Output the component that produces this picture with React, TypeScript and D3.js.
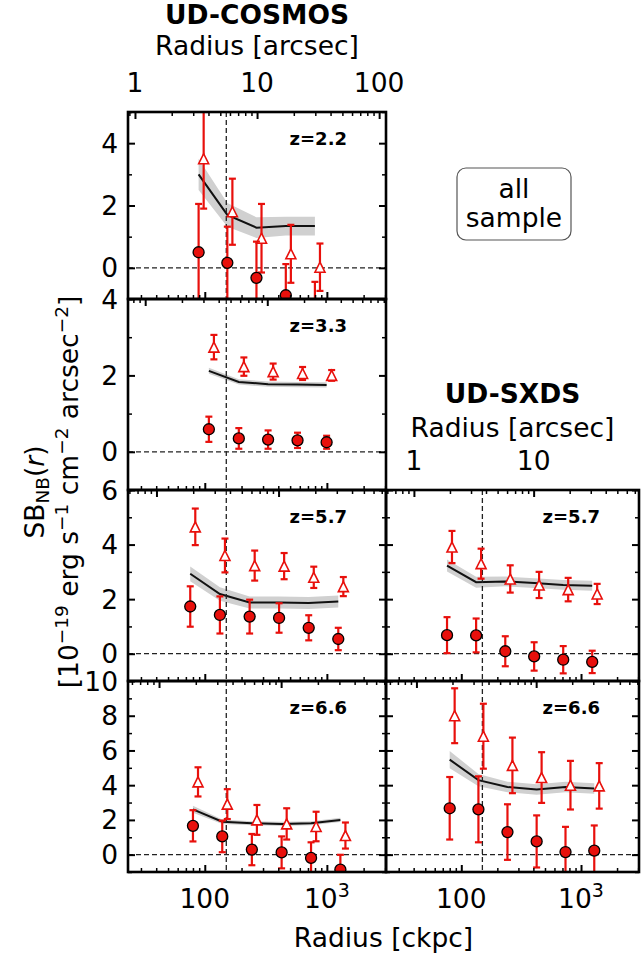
import React, { useEffect, useRef } from "react";
import * as d3 from "d3";

// radial bins [ckpc], one list per redshift
const rZ22 = [89, 153, 265, 461, 798];
const rZ33 = [108, 190, 330, 575, 995];
const rZ57 = [76, 133, 233, 406, 710, 1240];
const rZ66 = [80, 139, 243, 426, 742, 1290];

// UD-COSMOS z=2.2
const cos22Circ = [0.5, 0.16, -0.32, -0.88, -1.55];
const cos22CircErr = [1.55, 1.16, 1.16, 1.0, 1.1];
const cos22Tri = [3.5, 1.8, 0.95, 0.45, 0.02];
const cos22TriErr = [1.6, 1.06, 1.1, 0.93, 0.76];
const cos22Line = [3.0, 1.7, 1.29, 1.34, 1.34];
const cos22Band = [0.5, 0.38, 0.33, 0.3, 0.3];

// UD-COSMOS z=3.3
const cos33Circ = [0.59, 0.35, 0.32, 0.3, 0.25];
const cos33CircErr = [0.33, 0.27, 0.24, 0.2, 0.17];
const cos33Tri = [2.74, 2.23, 2.1, 2.05, 2.0];
const cos33TriErr = [0.32, 0.24, 0.21, 0.17, 0.14];
const cos33Line = [2.12, 1.83, 1.77, 1.76, 1.75];
const cos33Band = [0.08, 0.07, 0.07, 0.07, 0.07];

// UD-COSMOS z=5.7
const cos57Circ = [1.73, 1.42, 1.36, 1.31, 0.95, 0.54];
const cos57CircErr = [0.74, 0.68, 0.62, 0.54, 0.46, 0.41];
const cos57Tri = [4.65, 3.6, 3.23, 3.21, 2.8, 2.46];
const cos57TriErr = [0.67, 0.62, 0.55, 0.48, 0.39, 0.35];
const cos57Line = [2.93, 2.19, 1.88, 1.88, 1.86, 1.91];
const cos57Band = [0.27, 0.25, 0.22, 0.22, 0.22, 0.22];

// UD-COSMOS z=6.6
const cos66Circ = [1.66, 1.05, 0.29, 0.13, -0.19, -0.86];
const cos66CircErr = [0.9, 0.91, 0.9, 0.92, 0.9, 0.85];
const cos66Tri = [4.19, 2.91, 2.0, 1.77, 1.62, 1.1];
const cos66TriErr = [0.84, 0.86, 0.86, 0.9, 0.85, 0.75];
const cos66Line = [2.61, 1.9, 1.81, 1.77, 1.81, 2.0];
const cos66Band = [0.2, 0.13, 0.12, 0.12, 0.12, 0.12];

// UD-SXDS z=5.7
const sx57Circ = [0.68, 0.67, 0.09, -0.1, -0.22, -0.3];
const sx57CircErr = [0.66, 0.62, 0.55, 0.52, 0.5, 0.41];
const sx57Tri = [3.91, 3.3, 2.74, 2.52, 2.35, 2.19];
const sx57TriErr = [0.59, 0.55, 0.5, 0.48, 0.43, 0.37];
const sx57Line = [3.23, 2.62, 2.65, 2.59, 2.52, 2.49];
const sx57Band = [0.22, 0.2, 0.18, 0.18, 0.18, 0.18];

// UD-SXDS z=6.6
const sx66Circ = [2.67, 2.61, 1.3, 0.76, 0.15, 0.23];
const sx66CircErr = [1.8, 1.9, 1.6, 1.5, 1.45, 1.45];
const sx66Tri = [8.0, 6.82, 5.14, 4.44, 4.0, 3.96];
const sx66TriErr = [1.58, 1.87, 1.6, 1.46, 1.4, 1.31];
const sx66Line = [5.47, 4.29, 3.9, 3.75, 3.9, 3.81];
const sx66Band = [0.5, 0.35, 0.3, 0.3, 0.3, 0.3];

// tick labels
const yLabels5 = [0, 2, 4];
const yLabels6 = [0, 2, 4, 6];
const yLabels10 = [0, 2, 4, 6, 8, 10];
const ckpcLabels = [100, 1000];
const cosmosArcLabels = [1, 10, 100];
const sxdsArcLabels = [1, 10];

const xDomain = [23.5, 3050];
const rCut = 150; // ckpc, dashed vertical line
const RED = "#e8100c";
const FONT = "DejaVu Sans";
const FS = 26.5;

const colX = [[128, 386], [386, 639]];
const rowY = [[112, 299], [299, 490], [490, 681], [681, 872]];

const panels = [
  { col: 0, row: 0, z: "2.2", kpa: 26.8, yd: [-1, 5], yl: yLabels5, r: rZ22, c: cos22Circ, ce: cos22CircErr, t: cos22Tri, te: cos22TriErr, l: cos22Line, b: cos22Band },
  { col: 0, row: 1, z: "3.3", kpa: 32.5, yd: [-1, 4], yl: yLabels5, r: rZ33, c: cos33Circ, ce: cos33CircErr, t: cos33Tri, te: cos33TriErr, l: cos33Line, b: cos33Band },
  { col: 0, row: 2, z: "5.7", kpa: 40.2, yd: [-1, 6], yl: yLabels6, r: rZ57, c: cos57Circ, ce: cos57CircErr, t: cos57Tri, te: cos57TriErr, l: cos57Line, b: cos57Band },
  { col: 0, row: 3, z: "6.6", kpa: 42.2, yd: [-1, 10], yl: yLabels10, r: rZ66, c: cos66Circ, ce: cos66CircErr, t: cos66Tri, te: cos66TriErr, l: cos66Line, b: cos66Band },
  { col: 1, row: 2, z: "5.7", kpa: 40.2, yd: [-1, 6], yl: null, r: rZ57, c: sx57Circ, ce: sx57CircErr, t: sx57Tri, te: sx57TriErr, l: sx57Line, b: sx57Band },
  { col: 1, row: 3, z: "6.6", kpa: 42.2, yd: [-1, 10], yl: null, r: rZ66, c: sx66Circ, ce: sx66CircErr, t: sx66Tri, te: sx66TriErr, l: sx66Line, b: sx66Band },
];

const isMajor = (v: number) => Math.abs(Math.log10(v) - Math.round(Math.log10(v))) < 1e-6;

// rich text: segments with a vertical shift in px (negative = up) and a size
function richText(sel: any, segs: [string, number, number][]) {
  let cur = 0;
  segs.forEach(([txt, shift, size]) => {
    sel.append("tspan").attr("dy", shift - cur).attr("font-size", size).text(txt);
    cur = shift;
  });
}

function App() {
  const ref = useRef<SVGSVGElement>(null);

  useEffect(() => {
    const svg = d3.select(ref.current);
    svg.selectAll("*").remove();
    const defs = svg.append("defs");

    const tickGroup = (g: any, axis: any, tf: string, w: number) => {
      g.append("g").attr("transform", tf).call(axis)
        .call((s: any) => s.select(".domain").remove())
        .call((s: any) => s.selectAll("text").remove())
        .selectAll("line").attr("stroke", "#000").attr("stroke-width", w);
    };

    panels.forEach((p, pi) => {
      const [x0, x1] = colX[p.col];
      const [y0, y1] = rowY[p.row];
      const x = d3.scaleLog().domain(xDomain).range([x0, x1]);
      const xa = d3.scaleLog().domain([xDomain[0] / p.kpa, xDomain[1] / p.kpa]).range([x0, x1]);
      const y = d3.scaleLinear().domain(p.yd).range([y1, y0]);
      const g = svg.append("g");

      defs.append("clipPath").attr("id", "clip" + pi)
        .append("rect").attr("x", x0).attr("y", y0).attr("width", x1 - x0).attr("height", y1 - y0);
      const pg = g.append("g").attr("clip-path", `url(#clip${pi})`);

      // shaded band and line
      const area = d3.area<number>()
        .x((d, i) => x(p.r[i]))
        .y0((d, i) => y(d - p.b[i]))
        .y1((d, i) => y(d + p.b[i]));
      pg.append("path").attr("d", area(p.l)).attr("fill", "#d0d0d0");
      const line = d3.line<number>().x((d, i) => x(p.r[i])).y((d) => y(d));
      pg.append("path").attr("d", line(p.l)).attr("fill", "none").attr("stroke", "#111").attr("stroke-width", 2);

      // reference lines
      pg.append("line").attr("x1", x0).attr("x2", x1).attr("y1", y(0)).attr("y2", y(0))
        .attr("stroke", "#222").attr("stroke-width", 1.3).attr("stroke-dasharray", "5,3");
      pg.append("line").attr("x1", x(rCut)).attr("x2", x(rCut)).attr("y1", y0).attr("y2", y1)
        .attr("stroke", "#222").attr("stroke-width", 1.3).attr("stroke-dasharray", "5,3");

      // error bars
      const errBars = (vals: number[], errs: number[], shift: number) => {
        const eg = pg.append("g").attr("stroke", RED).attr("stroke-width", 2.2);
        vals.forEach((v, i) => {
          const cx = x(p.r[i] * shift);
          const ya = y(v - errs[i]);
          const yb = y(v + errs[i]);
          eg.append("line").attr("x1", cx).attr("x2", cx).attr("y1", ya).attr("y2", yb);
          eg.append("line").attr("x1", cx - 3.5).attr("x2", cx + 3.5).attr("y1", ya).attr("y2", ya);
          eg.append("line").attr("x1", cx - 3.5).attr("x2", cx + 3.5).attr("y1", yb).attr("y2", yb);
        });
      };
      errBars(p.t, p.te, 1.1);
      pg.append("g").selectAll("path").data(p.t).join("path")
        .attr("transform", (d, i) => `translate(${x(p.r[i] * 1.1)},${y(d)})`)
        .attr("d", "M0,-5L5,5L-5,5Z")
        .attr("fill", "#fff").attr("stroke", RED).attr("stroke-width", 1.6);
      errBars(p.c, p.ce, 1);
      pg.append("g").selectAll("circle").data(p.c).join("circle")
        .attr("cx", (d, i) => x(p.r[i])).attr("cy", (d) => y(d)).attr("r", 5.5)
        .attr("fill", RED).attr("stroke", "#000").attr("stroke-width", 1.3);

      // ticks
      const xt = x.ticks();
      const xat = xa.ticks();
      const ymaj = d3.range(Math.ceil(p.yd[0] / 2) * 2, p.yd[1] + 0.01, 2);
      const ymin = d3.range(p.yd[0], p.yd[1] + 0.01, 1).filter((v) => v % 2 !== 0);
      tickGroup(g, d3.axisBottom(x).tickValues(xt.filter(isMajor)).tickSize(-7), `translate(0,${y1})`, 2);
      tickGroup(g, d3.axisBottom(x).tickValues(xt.filter((v) => !isMajor(v))).tickSize(-4), `translate(0,${y1})`, 1.5);
      tickGroup(g, d3.axisTop(xa).tickValues(xat.filter(isMajor)).tickSize(-7), `translate(0,${y0})`, 2);
      tickGroup(g, d3.axisTop(xa).tickValues(xat.filter((v) => !isMajor(v))).tickSize(-4), `translate(0,${y0})`, 1.5);
      tickGroup(g, d3.axisLeft(y).tickValues(ymaj).tickSize(-7), `translate(${x0},0)`, 2);
      tickGroup(g, d3.axisLeft(y).tickValues(ymin).tickSize(-4), `translate(${x0},0)`, 1.5);
      tickGroup(g, d3.axisRight(y).tickValues(ymaj).tickSize(-7), `translate(${x1},0)`, 2);
      tickGroup(g, d3.axisRight(y).tickValues(ymin).tickSize(-4), `translate(${x1},0)`, 1.5);

      g.append("rect").attr("x", x0).attr("y", y0).attr("width", x1 - x0).attr("height", y1 - y0)
        .attr("fill", "none").attr("stroke", "#000").attr("stroke-width", 2.6);

      g.append("text").attr("x", x1 - 39).attr("y", y0 + 33).attr("text-anchor", "end")
        .attr("font-size", 18).attr("font-weight", "bold").text("z=" + p.z);

      if (p.yl) {
        g.append("g").selectAll("text").data(p.yl).join("text")
          .attr("x", x0 - 10).attr("y", (d) => y(d)).attr("dy", "0.36em")
          .attr("text-anchor", "end").attr("font-size", FS).text((d) => String(d));
      }

      // bottom ckpc labels on the last row
      if (p.row === 3) {
        ckpcLabels.forEach((v) => {
          const t = g.append("text").attr("x", x(v)).attr("y", 908).attr("text-anchor", "middle").attr("font-size", FS);
          if (v === 100) t.text("100");
          else richText(t, [["10", 0, FS], ["3", -11, 19]]);
        });
      }

      // arcsec labels above the top panel of each field
      if (p.col === 0 && p.row === 0) {
        g.append("g").selectAll("text").data(cosmosArcLabels).join("text")
          .attr("x", (d) => xa(d)).attr("y", 92).attr("text-anchor", "middle").attr("font-size", FS)
          .text((d) => String(d));
      }
      if (p.col === 1 && p.row === 2) {
        g.append("g").selectAll("text").data(sxdsArcLabels).join("text")
          .attr("x", (d) => xa(d)).attr("y", 470).attr("text-anchor", "middle").attr("font-size", FS)
          .text((d) => String(d));
      }
    });

    // titles
    const cxL = (colX[0][0] + colX[0][1]) / 2;
    const cxR = (colX[1][0] + colX[1][1]) / 2;
    svg.append("text").attr("x", cxL).attr("y", 24).attr("text-anchor", "middle")
      .attr("font-size", FS).attr("font-weight", "bold").text("UD-COSMOS");
    svg.append("text").attr("x", cxL).attr("y", 55).attr("text-anchor", "middle")
      .attr("font-size", FS).text("Radius [arcsec]");
    svg.append("text").attr("x", cxR).attr("y", 403).attr("text-anchor", "middle")
      .attr("font-size", FS).attr("font-weight", "bold").text("UD-SXDS");
    svg.append("text").attr("x", cxR).attr("y", 437).attr("text-anchor", "middle")
      .attr("font-size", FS).text("Radius [arcsec]");
    svg.append("text").attr("x", (colX[0][0] + colX[1][1]) / 2).attr("y", 947).attr("text-anchor", "middle")
      .attr("font-size", FS).text("Radius [ckpc]");

    // "all sample" box
    svg.append("rect").attr("x", 457).attr("y", 168).attr("width", 114).attr("height", 72).attr("rx", 9)
      .attr("fill", "#fff").attr("stroke", "#555").attr("stroke-width", 1.2);
    svg.append("text").attr("x", 514).attr("y", 198).attr("text-anchor", "middle").attr("font-size", FS).text("all");
    svg.append("text").attr("x", 514).attr("y", 227).attr("text-anchor", "middle").attr("font-size", FS).text("sample");

    // y-axis label, two centred lines
    const yc = (rowY[0][0] + rowY[3][1]) / 2;
    const l1 = svg.append("text").attr("transform", `translate(44,${yc}) rotate(-90)`)
      .attr("text-anchor", "middle").attr("font-size", FS);
    richText(l1, [["SB", 0, FS], ["NB", 5, 18.5], ["(", 0, FS]]);
    l1.append("tspan").attr("font-style", "italic").text("r");
    l1.append("tspan").text(")");

    const l2 = svg.append("text").attr("transform", `translate(78,${yc}) rotate(-90)`)
      .attr("text-anchor", "middle").attr("font-size", FS);
    richText(l2, [
      ["[10", 0, FS], ["\u221219", -10, 18.5],
      [" erg s", 0, FS], ["\u22121", -10, 18.5],
      [" cm", 0, FS], ["\u22122", -10, 18.5],
      [" arcsec", 0, FS], ["\u22122", -10, 18.5],
      ["]", 0, FS],
    ]);
  }, []);

  return (
    <div style={{ position: "absolute", left: 0, top: 0 }}>
      <svg ref={ref} width={642} height={957} fontFamily={FONT} style={{ display: "block", background: "#fff" }} />
    </div>
  );
}

export default App;
